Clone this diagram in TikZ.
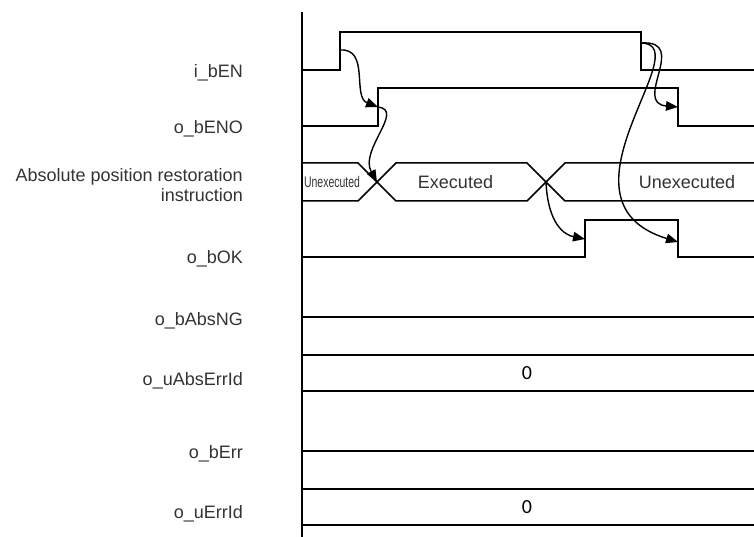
\documentclass[tikz,border=0pt]{standalone}
\usepackage{fontspec}
\setmainfont{Liberation Sans}
\newfontfamily\zerofont{Carlito}
\usetikzlibrary{arrows.meta}
\definecolor{txtgray}{HTML}{333333}
\begin{document}
\begin{tikzpicture}[x=1pt,y=-1pt,
  lbl/.style={anchor=base east, font=\fontsize{18}{20}\selectfont, text=txtgray, inner sep=0pt},
  val/.style={anchor=base, font=\fontsize{18}{20}\selectfont, text=txtgray, inner sep=0pt},
  zero/.style={anchor=base, font=\zerofont\fontsize{20}{22}\selectfont, text=black, inner sep=0pt},
  sig/.style={line width=1.5pt, line join=miter},
  arr/.style={line width=1.4pt, -{Triangle[length=12pt,width=9.5pt]}}]
\useasboundingbox (0,0) rectangle (754,537);

% axis
\draw[line width=1.5pt] (302,12) -- (302,537);

% labels
\node[lbl] (lEN) at (243,78) {i\_bEN};
\node[lbl] (lENO) at (243,134) {o\_bENO};
\node[lbl] (lAbs1) at (243,181.5) {Absolute position restoration};
\node[lbl] (lAbs2) at (243,201.5) {instruction};
\node[lbl] (lOK) at (243,263) {o\_bOK};
\node[lbl] (lNG) at (243,325) {o\_bAbsNG};
\node[lbl] (lAErr) at (243,385) {o\_uAbsErrId};
\node[lbl] (lErr) at (243,458) {o\_bErr};
\node[lbl] (lErrId) at (243,518) {o\_uErrId};

% i_bEN
\draw[sig] (302,70) -- (340,70) -- (340,32) -- (641,32) -- (641,70) -- (754,70);
% o_bENO
\draw[sig] (302,126) -- (378,126) -- (378,88) -- (678,88) -- (678,126) -- (754,126);
% instruction state
\draw[sig] (302,163) -- (358,163) -- (396,201) -- (527,201) -- (565,163) -- (754,163);
\draw[sig] (302,201) -- (358,201) -- (396,163) -- (527,163) -- (565,201) -- (754,201);
\node[anchor=base, font=\fontsize{15.4}{17}\selectfont, text=txtgray, inner sep=0pt] (uex1) at (332,188) {\scalebox{0.68}[1]{Unexecuted}};
\node[val] (ex) at (455.5,188.3) {Executed};
\node[val] (uex2) at (687,188.3) {Unexecuted};
% o_bOK
\draw[sig] (302,257) -- (585,257) -- (585,220) -- (678,220) -- (678,257) -- (754,257);
% o_bAbsNG
\draw[sig] (302,317) -- (754,317);
% o_uAbsErrId
\draw[sig] (302,355) -- (754,355);
\draw[sig] (302,391) -- (754,391);
\node[zero] (z1) at (527,379) {0};
% o_bErr
\draw[sig] (302,451) -- (754,451);
% o_uErrId
\draw[sig] (302,489) -- (754,489);
\draw[sig] (302,525) -- (754,525);
\node[zero] (z2) at (527,513) {0};

% edge coordinates
\coordinate (enR) at (340,50);
\coordinate (enF) at (641.5,43);
\coordinate (enoR) at (378,107);
\coordinate (enoF) at (678,107);
\coordinate (crossA) at (377,182);
\coordinate (crossB) at (546,182);
\coordinate (okR) at (585,239);
\coordinate (okF) at (678,242);

% causal arrows
\draw[arr] (enR) .. controls +(30,-2) and +(-26,-10) .. (enoR);
\draw[arr] (enoR) .. controls +(27,3) and +(-18,-32) .. (crossA);
\draw[arr] (enF) .. controls +(48,-3) and +(-46,-4) .. (enoF);
\draw[arr] (enF) .. controls +(58.5,2) and +(-133,-41) .. (okF);
\draw[arr] (crossB) .. controls +(2,43) and +(-20,-4) .. (okR);
\end{tikzpicture}
\end{document}
